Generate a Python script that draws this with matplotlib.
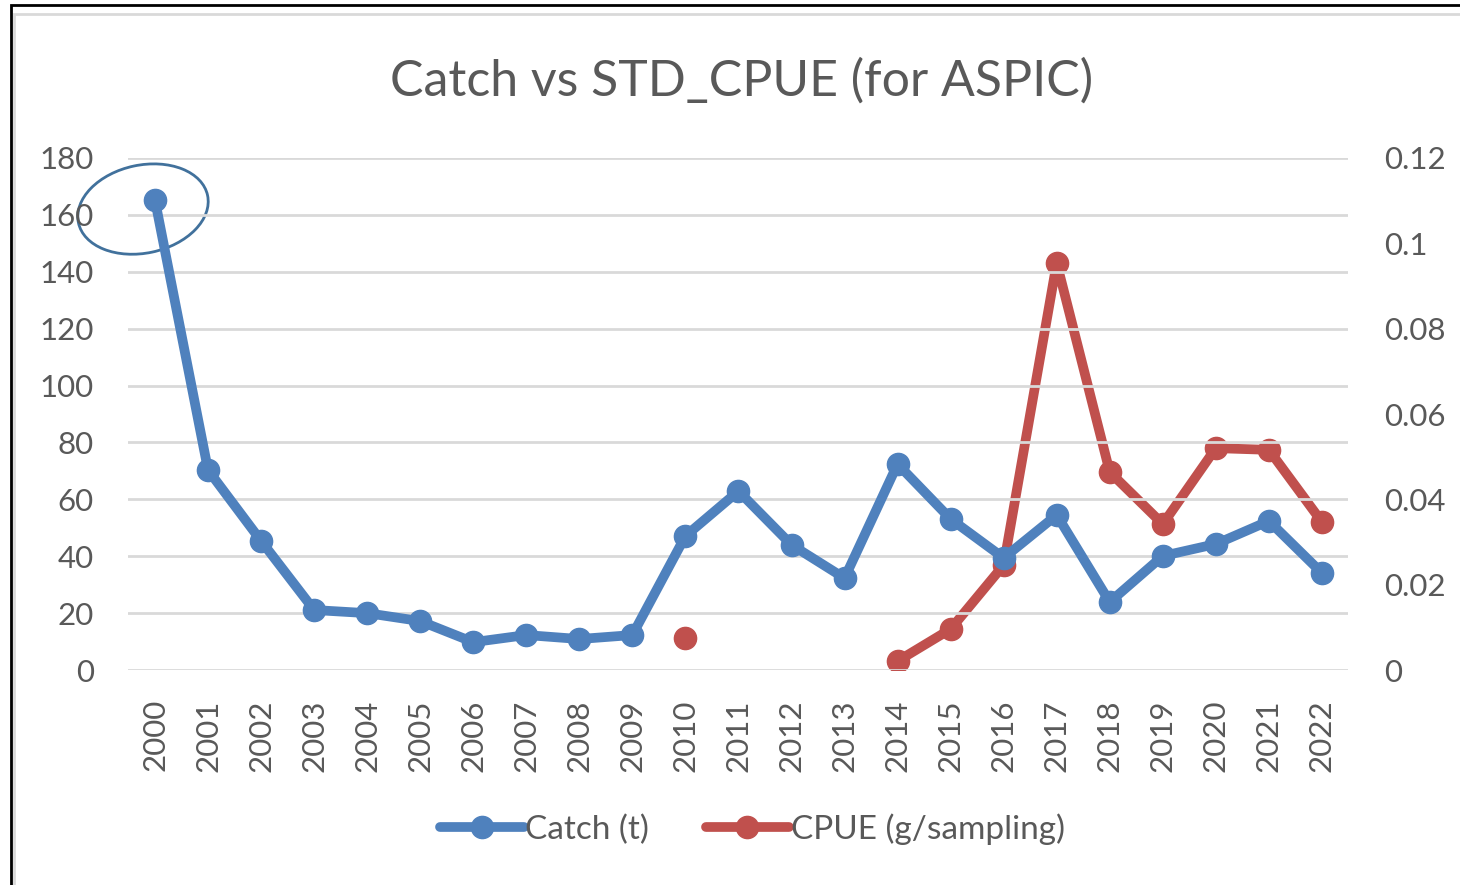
import matplotlib.pyplot as plt
from matplotlib.patches import Ellipse, Rectangle
from matplotlib.transforms import IdentityTransform
import numpy as np

years = [str(y) for y in range(2000, 2023)]
catch = [165.2, 70.3, 45.4, 21.1, 20.0, 17.2, 9.8, 12.3, 10.9, 12.3,
         47.1, 62.9, 44.0, 32.3, 72.4, 53.1, 39.4, 54.5, 23.9, 40.1,
         44.3, 52.4, 34.1]
cpue = [None] * 10 + [0.0075, None, None, None, 0.0021, 0.0096, 0.0246,
                      0.0954, 0.0464, 0.0342, 0.052, 0.0516, 0.0347]

plt.rcParams['font.family'] = ['Lato', 'DejaVu Sans']
txt = '#595959'
blue = '#4F81BD'
red = '#C0504D'

fig = plt.figure(figsize=(14.6, 8.85), dpi=100)
ax = fig.add_axes([0.088, 0.2429, 0.8356, 0.5786])
ax2 = ax.twinx()

x = np.arange(len(years))
cp = np.array([np.nan if v is None else v for v in cpue])

ax.plot(x, catch, color=blue, lw=7, marker='o', ms=16, label='Catch (t)',
        solid_joinstyle='round', solid_capstyle='round', zorder=3)
ax2.plot(x, cp, color=red, lw=7, marker='o', ms=16, label='CPUE (g/sampling)',
         solid_joinstyle='round', solid_capstyle='round', zorder=3)

ax.set_xlim(-0.5, len(years) - 0.5)
ax.set_ylim(0, 180)
ax.set_yticks(range(0, 181, 20))
ax2.set_ylim(0, 0.12)
ax2.set_yticks([0, 0.02, 0.04, 0.06, 0.08, 0.1, 0.12])
ax2.set_yticklabels(['0', '0.02', '0.04', '0.06', '0.08', '0.1', '0.12'])
ax.set_xticks(x)
ax.set_xticklabels(years, rotation=90)

ax.grid(axis='y', color='#D9D9D9', lw=2)
ax.set_axisbelow(True)
for a in (ax, ax2):
    for s in a.spines.values():
        s.set_visible(False)
    a.tick_params(length=0, labelsize=22.5, labelcolor=txt)
ax.tick_params(axis='y', pad=25)
ax.tick_params(axis='x', pad=21)
ax2.tick_params(axis='y', pad=26)
ax.set_zorder(ax2.get_zorder() + 1)
ax.patch.set_visible(False)

fig.suptitle('Catch vs STD_CPUE (for ASPIC)', x=0.508, y=0.935, fontsize=36,
             color=txt)

h1, l1 = ax.get_legend_handles_labels()
h2, l2 = ax2.get_legend_handles_labels()
ax.legend(h1 + h2, l1 + l2, loc='center', bbox_to_anchor=(0.5115, -0.311),
          ncol=2, frameon=False, fontsize=24, labelcolor=txt, handlelength=2.5,
          handletextpad=0.05, columnspacing=1.7, markerscale=1.0)

# circle round the 2000 value
fig.canvas.draw()
px, py = ax.transData.transform((0, catch[0]))
ell = Ellipse((px - 12, py - 9), 132, 88, angle=12, fill=False,
              ec='#41719C', lw=2, transform=IdentityTransform(), clip_on=False)
fig.add_artist(ell)

# chart border (only top and left are visible in the crop)
fig.add_artist(Rectangle((14, -100), 1600, 971, transform=IdentityTransform(),
                         fill=False, ec='#D9D9D9', lw=2))
fig.add_artist(Rectangle((11, -100), 1600, 980, transform=IdentityTransform(),
                         fill=False, ec='black', lw=2))

fig.savefig('out.png', dpi=100)
